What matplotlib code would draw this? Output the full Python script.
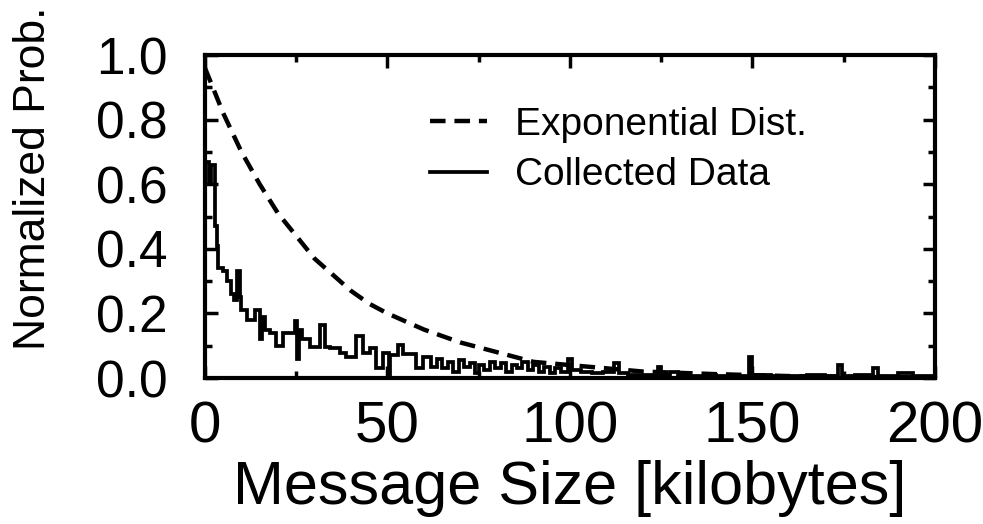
import matplotlib
matplotlib.use('Agg')
import matplotlib.pyplot as plt
from matplotlib.ticker import MultipleLocator

# collected data: left edge of each histogram step [kB] and its normalized height
bin_left = [0.0, 1.0, 1.7, 2.7, 3.2, 3.7, 5.0, 6.0, 7.0, 8.0, 8.7, 9.6, 10.0, 11.5,
            13.7, 15.0, 15.7, 16.5, 17.8, 19.6, 21.5, 24.6, 25.3, 25.9, 26.5, 28.8,
            31.5, 32.8, 34.2, 36.9, 38.7, 41.5, 43.3, 45.1, 47.0, 48.8, 50.3, 50.6,
            52.9, 54.2, 57.9, 59.7, 62.0, 63.5, 65.0, 66.5, 68.0, 69.5, 71.0, 72.5,
            74.0, 75.0, 76.5, 78.0, 79.5, 81.0, 82.5, 84.0, 85.5, 87.0, 88.5, 90.0,
            91.5, 93.0, 94.5, 96.0, 97.5, 99.5, 100.5, 103.0, 106.0, 109.0, 112.0,
            113.5, 116.0, 124.0, 125.0, 127.5, 129.5, 137.0, 140.0, 149.0, 150.0,
            155.0, 165.0, 170.0, 173.5, 174.5, 178.0, 183.0, 184.5, 190.0, 194.0]
bin_height = [0.67, 0.60, 0.66, 0.47, 0.41, 0.34, 0.33, 0.30, 0.26, 0.24, 0.33, 0.25, 0.21, 0.18,
              0.21, 0.12, 0.19, 0.15, 0.14, 0.10, 0.14, 0.175, 0.06, 0.15, 0.12, 0.097,
              0.164, 0.097, 0.092, 0.077, 0.066, 0.13, 0.077, 0.092, 0.03, 0.077, 0.005, 0.072,
              0.103, 0.074, 0.03, 0.066, 0.035, 0.06, 0.03, 0.05, 0.02, 0.055, 0.035, 0.045,
              0.015, 0.04, 0.025, 0.05, 0.03, 0.045, 0.02, 0.04, 0.03, 0.05, 0.025, 0.04,
              0.02, 0.035, 0.015, 0.03, 0.02, 0.06, 0.025, 0.02, 0.015, 0.02, 0.045,
              0.015, 0.008, 0.035, 0.008, 0.02, 0.006, 0.01, 0.005, 0.065, 0.008,
              0.006, 0.01, 0.005, 0.04, 0.006, 0.01, 0.032, 0.005, 0.016, 0.005]
x_max = 200

# exponential distribution
exp_x = [0, 5, 10, 15, 20, 25, 30, 35, 40, 45, 50, 60, 70, 80, 90, 100, 120, 140, 160, 180, 200]
exp_y = [0.96, 0.82, 0.70, 0.60, 0.51, 0.44, 0.37, 0.32, 0.27, 0.23, 0.20, 0.15, 0.11,
         0.08, 0.05, 0.04, 0.02, 0.012, 0.006, 0.003, 0.002]

plt.rcParams['font.family'] = ['Liberation Sans', 'DejaVu Sans']

fig = plt.figure(figsize=(9.83, 5.24), dpi=100)
ax = fig.add_axes([0.2085, 0.2786, 0.7426, 0.6164])

ax.plot(exp_x, exp_y, color='black', linewidth=3.2, linestyle=(0, (3.5, 2)),
        label='Exponential Dist.')
ax.stairs(bin_height, bin_left + [x_max], color='black', linewidth=2.7,
          baseline=None, label='Collected Data')

ax.set_xlim(0, 200)
ax.set_ylim(0, 1.0)
ax.xaxis.set_major_locator(MultipleLocator(50))
ax.xaxis.set_minor_locator(MultipleLocator(25))
ax.yaxis.set_major_locator(MultipleLocator(0.2))
ax.yaxis.set_minor_locator(MultipleLocator(0.1))
ax.yaxis.set_major_formatter(plt.FuncFormatter(lambda v, p: f'{v:.1f}'))

for s in ax.spines.values():
    s.set_linewidth(3)
ax.tick_params(which='both', direction='in', top=True, right=True, width=2.5, color='black')
ax.tick_params(which='major', length=9)
ax.tick_params(which='minor', length=5)
ax.tick_params(axis='x', which='major', labelsize=42, pad=16)
ax.tick_params(axis='y', which='major', labelsize=37, pad=27)

ax.set_xlabel('Message Size [kilobytes]', fontsize=44)
ax.xaxis.set_label_coords(0.5, -0.255)
ax.set_ylabel('Normalized Prob.', fontsize=32, va='center', ha='center')
ax.yaxis.set_label_coords(-0.235, 0.62)

ax.legend(loc='upper left', bbox_to_anchor=(0.308, 0.84), frameon=False, fontsize=28,
          handlelength=1.47, handletextpad=0.72, labelspacing=0.38,
          borderpad=0, borderaxespad=0)

plt.savefig('out.png', dpi=100)
plt.close()
